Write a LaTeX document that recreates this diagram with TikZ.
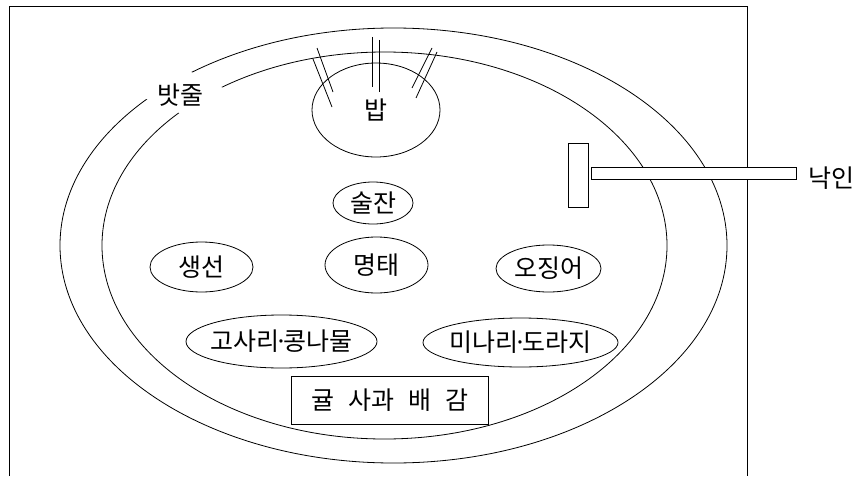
\documentclass[tikz,border=0pt]{standalone}
\usepackage{fontspec}
\setmainfont{Noto Sans CJK KR}
\usetikzlibrary{shapes.geometric}
\newcommand{\mdot}{\kern-5pt·\kern-5pt}
\begin{document}
\begin{tikzpicture}[x=1pt,y=-1pt,line width=0.8pt,
  every node/.style={font=\fontsize{25}{29}\selectfont, inner sep=0pt},
  dish/.style={draw, ellipse, inner sep=0pt},
  fruitbox/.style={draw, rectangle, inner sep=0pt},
  bar/.style={draw, fill=white, rectangle, inner sep=0pt},
  stick/.style={line width=0.8pt}]
\useasboundingbox (0,0) rectangle (858,476);
% frame
\draw (9,476) -- (9,6) -- (747,6) -- (747,476);
% table ropes
\draw (393.5,245.5) ellipse [x radius=333.5, y radius=217.5];
\draw (384.5,245.5) ellipse [x radius=282.5, y radius=193.5];
\fill[white] (137,95) -- (189,117) -- (232,92.5) -- (182,67.5) -- cycle;
\node (rope) at (180,95) {밧줄};
% rice bowl and utensils
\node[dish, minimum width=128pt, minimum height=94pt, label=center:밥] (bap) at (376,110) {};
\draw[stick] (372,37) -- (372,87);
\draw[stick] (379,40) -- (379,92);
\draw[stick] (317,48) -- (333,92);
\draw[stick] (313,59) -- (332,107);
\draw[stick] (432,48) -- (412,88);
\draw[stick] (437,52) -- (416,98);
% dishes
\node[dish, minimum width=80pt, minimum height=42pt, label=center:술잔] (suljan) at (373,203) {};
\node[dish, minimum width=103pt, minimum height=56pt, label=center:명태] (myeongtae) at (376.5,265) {};
\node[dish, minimum width=103pt, minimum height=50pt, label=center:생선] (saengseon) at (201.5,267) {};
\node[dish, minimum width=105pt, minimum height=47pt, label=center:오징어] (ojingeo) at (548.5,268.5) {};
\node[dish, minimum width=191pt, minimum height=53pt, label={center:고사리\mdot 콩나물}] (gosari) at (281.5,341.5) {};
\node[dish, minimum width=195pt, minimum height=49pt, label={center:미나리\mdot 도라지}] (minari) at (520.5,342.5) {};
\node[fruitbox, minimum width=197pt, minimum height=48pt] (fruit) at (389.5,400) {귤\hspace{14pt}사과\hspace{14pt}배\hspace{14pt}감};
% brand iron
\node[bar, minimum width=205pt, minimum height=12pt] (handle) at (693.5,173) {};
\node[bar, minimum width=20pt, minimum height=64pt] (iron) at (578,175) {};
\node (nakin) at (831,178) {낙인};
\end{tikzpicture}
\end{document}
